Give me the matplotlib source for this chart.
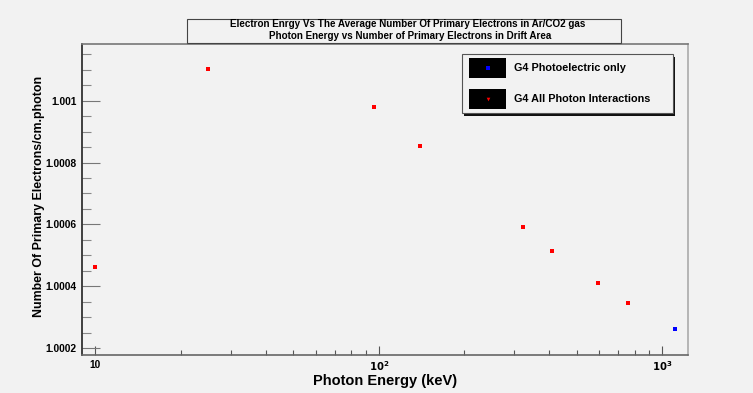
import matplotlib.pyplot as plt
import matplotlib.patches as mpatches
from matplotlib.ticker import FixedLocator, NullFormatter

plt.rcParams['font.family'] = ['Liberation Sans', 'DejaVu Sans']
plt.rcParams['font.weight'] = 'bold'

# photon energy (keV) and primary electrons per cm per photon
energy_pe = [10, 25, 96.5, 140, 323, 409, 591, 759, 1112]
electrons_pe = [1.000461, 1.001101, 1.000978, 1.000852, 1.000592,
                1.000514, 1.000411, 1.000346, 1.000263]
energy_all = [10, 25, 96.5, 140, 323, 409, 591, 759]
electrons_all = [1.000461, 1.001101, 1.000978, 1.000852, 1.000592,
                 1.000514, 1.000411, 1.000346]

y_ticks = [1.0002, 1.0004, 1.0006, 1.0008, 1.001]
y_labels = ["1.0002", "1.0004", "1.0006", "1.0008", "1.001"]
x_ticks = [10, 100, 1000]
x_labels = ["10", "$\\mathbf{10^{2}}$", "$\\mathbf{10^{3}}$"]

bg = '#f2f2f2'
W, H = 753, 393

fig = plt.figure(figsize=(7.53, 3.93), dpi=100, facecolor=bg)
ax = fig.add_axes([82.3 / W, 1 - 354.7 / H, (688 - 82.3) / W, (354.7 - 43.7) / H])
ax.set_facecolor(bg)

ax.plot(energy_pe, electrons_pe, ls='none', marker='s', ms=3.3, color='blue', mec='blue', mew=0)
ax.plot(energy_all, electrons_all, ls='none', marker='s', ms=2.8, color='red', mec='red', mew=0)

ax.set_xscale('log')
ax.set_xlim(9.0, 1232)
ax.set_ylim(1.000179, 1.001184)

ax.xaxis.set_major_locator(FixedLocator(x_ticks))
ax.set_xticklabels(x_labels)
minors = [v * d for d in (10, 100) for v in range(2, 10)]
ax.xaxis.set_minor_locator(FixedLocator(minors))
ax.xaxis.set_minor_formatter(NullFormatter())

ax.yaxis.set_major_locator(FixedLocator(y_ticks))
ax.set_yticklabels(y_labels)
yminor = [1.00020 + 0.00005 * i for i in range(0, 20)]
ax.yaxis.set_minor_locator(FixedLocator(yminor))

ax.tick_params(axis='x', which='major', direction='in', length=6.5, width=0.8,
               color='#555555', labelsize=7.3, pad=3.5)
ax.tick_params(axis='x', which='minor', direction='in', length=3.3, width=0.8, color='#555555')
ax.tick_params(axis='y', which='major', direction='in', length=13, width=0.8,
               color='#777777', labelsize=7.4, pad=4)
ax.tick_params(axis='y', which='minor', direction='in', length=6.5, width=0.8, color='#888888')

ax.spines['left'].set_color('#222222')
ax.spines['bottom'].set_color('#666666')
ax.spines['top'].set_color('#777777')
ax.spines['right'].set_color('#aaaaaa')
for s in ax.spines.values():
    s.set_linewidth(1.2)

ax.set_xlabel("Photon Energy (keV)", fontsize=10.5, fontweight='bold')
ax.xaxis.set_label_coords((385 - 82.3) / (688 - 82.3), -(374.5 - 354.7) / (354.7 - 43.7))
fig.text(39 / W, 1 - 196.5 / H, "Number Of Primary Electrons/cm.photon", rotation=90,
         ha='center', va='center', fontsize=8.9, fontweight='bold')

# title box
fig.patches.append(mpatches.Rectangle((187 / W, 1 - 43 / H), (621 - 187) / W, (43 - 18.7) / H,
                                      transform=fig.transFigure, facecolor=bg,
                                      edgecolor='#444444', lw=0.8))
fig.text(408 / W, 1 - 24 / H, "Electron Enrgy Vs The Average Number Of Primary Electrons in Ar/CO2 gas",
         ha='center', va='center', fontsize=7.1, fontweight='bold')
fig.text(410 / W, 1 - 36 / H, "Photon Energy vs Number of Primary Electrons in Drift Area",
         ha='center', va='center', fontsize=7.1, fontweight='bold')

# legend box with shadow
fig.patches.append(mpatches.Rectangle((464 / W, 1 - 116 / H), (673 - 462) / W, (113 - 54) / H,
                                      transform=fig.transFigure, facecolor='#111111', lw=0))
fig.patches.append(mpatches.Rectangle((462 / W, 1 - 113.3 / H), (673 - 462) / W, (113.3 - 54) / H,
                                      transform=fig.transFigure, facecolor=bg,
                                      edgecolor='#555555', lw=0.8))
entries = [("G4 Photoelectric only", 'blue', 's', 68), ("G4 All Photon Interactions", 'red', 'v', 98.5)]
for label, col, mk, yc in entries:
    fig.patches.append(mpatches.Rectangle((469.3 / W, 1 - (yc + 10) / H), 36.4 / W, 20 / H,
                                          transform=fig.transFigure, facecolor='black', lw=0))
    fig.lines.append(plt.Line2D([487.5 / W], [1 - yc / H], transform=fig.transFigure,
                                marker=mk, ms=2.6, color=col, mew=0, ls='none'))
    fig.text(514 / W, 1 - yc / H, label, ha='left', va='center', fontsize=7.8, fontweight='bold')

fig.savefig("out.png", dpi=100, facecolor=bg)
